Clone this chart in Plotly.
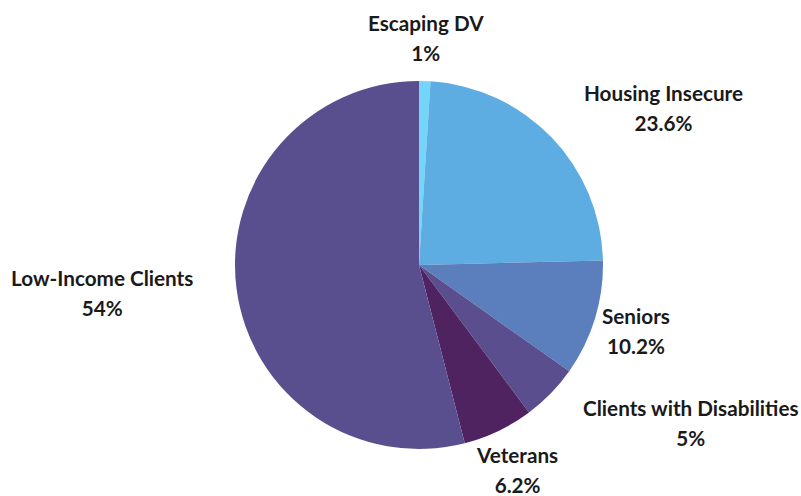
import math
import plotly.graph_objects as go

categories = ["Escaping DV", "Housing Insecure", "Seniors",
              "Clients with Disabilities", "Veterans", "Low-Income Clients"]
values = [1, 23.6, 10.2, 5, 6.2, 54]
colors = ["#73D5F8", "#5DADE2", "#5B7FBD", "#5A4E8F", "#4E2360", "#5A4F8E"]
label_anchor = ["center", "left", "center", "left", "center", "right"]

W, H = 801, 496
CX, CY, R = 419, 265, 184   # pie centre / radius in figure pixels
LABEL_R = 227

fig = go.Figure(go.Pie(
    labels=categories, values=values, sort=False, direction="clockwise",
    rotation=0, marker=dict(colors=colors, line=dict(width=0)),
    textinfo="none", hoverinfo="label+percent",
    domain=dict(x=[(CX - R) / W, (CX + R) / W],
                y=[(H - CY - R) / H, (H - CY + R) / H]),
))

total = sum(values)
cum = 0.0
font = dict(family="Lato, 'Open Sans', sans-serif", size=23, color="#1a1a1a")
span = "<span style='font-size:20.7px'><b>{}</b></span>"
for cat, v, anc in zip(categories, values, label_anchor):
    mid = (cum + v / 2) / total * 2 * math.pi
    cum += v
    px = CX + LABEL_R * math.sin(mid)
    py = CY - LABEL_R * math.cos(mid)
    fig.add_annotation(x=px / W, y=(H - py) / H, xref="paper", yref="paper",
                       text=span.format(cat) + "<br>" + span.format(f"{v:g}%"),
                       align="center", borderpad=0,
                       showarrow=False, xanchor=anc, yanchor="middle", font=font)

fig.update_layout(width=W, height=H, margin=dict(l=0, r=0, t=0, b=0),
                  showlegend=False, paper_bgcolor="white", plot_bgcolor="white")
fig.write_html("out.html", config={"displayModeBar": False},
               post_script="document.body.style.margin='0';"
                           "document.body.style.overflow='hidden';")
